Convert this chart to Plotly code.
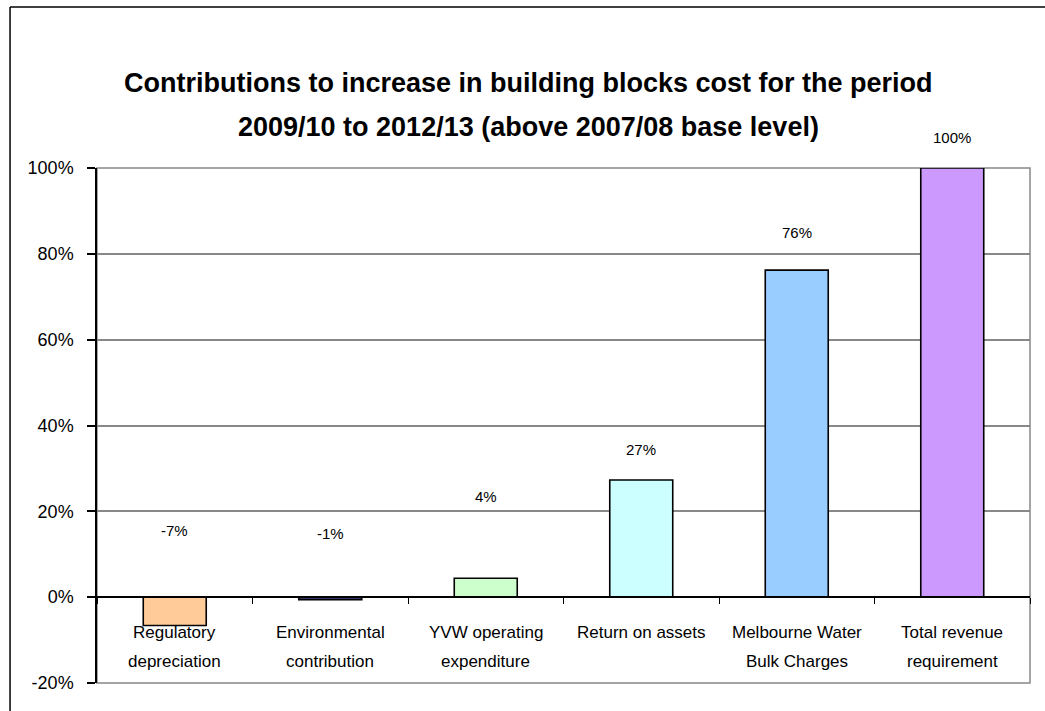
import plotly.graph_objects as go

# Chart data
categories = [
    "Regulatory<br>depreciation",
    "Environmental<br>contribution",
    "YVW operating<br>expenditure",
    "Return on assets",
    "Melbourne Water<br>Bulk Charges",
    "Total revenue<br>requirement",
]
contribution_pct = [-6.6, -0.6, 4.4, 27.3, 76.2, 100.0]
bar_colors = ["#FFCC99", "#333366", "#CCFFCC", "#CCFFFF", "#99CCFF", "#CC99FF"]
y_ticks = [-20, 0, 20, 40, 60, 80, 100]
y_tick_labels = ["-20%", "0%", "20%", "40%", "60%", "80%", "100%"]

# Height (in % units) at which each value label sits
label_heights = [15.6, 14.8, 23.5, 34.5, 84.9, 107.0]

Y_MIN, Y_MAX = -20, 100
FONT = "Liberation Sans, Arial, sans-serif"


def to_paper(v):
    return (v - Y_MIN) / (Y_MAX - Y_MIN)


fig = go.Figure()
fig.add_trace(go.Bar(
    x=categories,
    y=contribution_pct,
    width=0.405,
    marker=dict(color=bar_colors, line=dict(color="#000000", width=1.6)),
    hoverinfo="x+y",
))

annotations = []
# Value labels
for cat, val, h in zip(categories, contribution_pct, label_heights):
    annotations.append(dict(
        x=cat, y=to_paper(h), xref="x", yref="paper", text=f"{val:.0f}%",
        showarrow=False, font=dict(family=FONT, size=15, color="#000000"),
        xanchor="center", yanchor="middle",
    ))
# Category labels, one annotation per text line
for cat in categories:
    for i, part in enumerate(cat.split("<br>")):
        annotations.append(dict(
            x=cat, y=[0.099, 0.0408][i], xref="x", yref="paper", text=part,
            showarrow=False, font=dict(family=FONT, size=17, color="#000000"),
            xanchor="center", yanchor="middle",
        ))
# Title, two lines
for text, y in [
    ("Contributions to increase in building blocks cost for the period", 1.165),
    ("2009/10 to 2012/13 (above 2007/08 base level)", 1.0796),
]:
    annotations.append(dict(
        x=0.462, y=y, xref="paper", yref="paper", text=f"<b>{text}</b>",
        showarrow=False, font=dict(family=FONT, size=27, color="#000000"),
        xanchor="center", yanchor="middle",
    ))

shapes = [
    # Plot area frame
    dict(type="rect", xref="paper", yref="paper", x0=0, x1=1, y0=0, y1=1,
         line=dict(color="#888888", width=1.5), layer="below"),
    # Outer chart frame (left and top edges)
    dict(type="line", xref="paper", yref="paper", x0=-0.0932, x1=-0.0932,
         y0=-0.1, y1=1.3126, line=dict(color="#000000", width=1.5)),
    dict(type="line", xref="paper", yref="paper", x0=-0.0932, x1=1.1,
         y0=1.3126, y1=1.3126, line=dict(color="#000000", width=1.5)),
]

fig.update_layout(
    width=1045, height=711,
    margin=dict(l=97, r=15, t=168, b=28),
    paper_bgcolor="#FFFFFF", plot_bgcolor="#FFFFFF",
    showlegend=False,
    font=dict(family=FONT, color="#000000"),
    annotations=annotations,
    shapes=shapes,
    bargap=0.595,
)

fig.update_xaxes(
    type="category",
    tickson="boundaries",
    ticks="outside", ticklen=6, tickcolor="#000000", tickwidth=1,
    showticklabels=False,
    showline=True, linecolor="#000000", linewidth=1.5,
    showgrid=False, zeroline=False,
    anchor="free", position=to_paper(0),
)

fig.update_yaxes(
    range=[Y_MIN, Y_MAX],
    tickvals=y_ticks, ticktext=y_tick_labels,
    tickfont=dict(family=FONT, size=18, color="#000000"),
    ticks="outside", ticklen=8, tickcolor="#000000", tickwidth=1.5,
    ticklabelstandoff=10,
    showline=True, linecolor="#000000", linewidth=1.5,
    showgrid=True, gridcolor="#888888", gridwidth=1.5,
    zeroline=True, zerolinecolor="#000000", zerolinewidth=1.5,
)

fig.write_html("out.html")
